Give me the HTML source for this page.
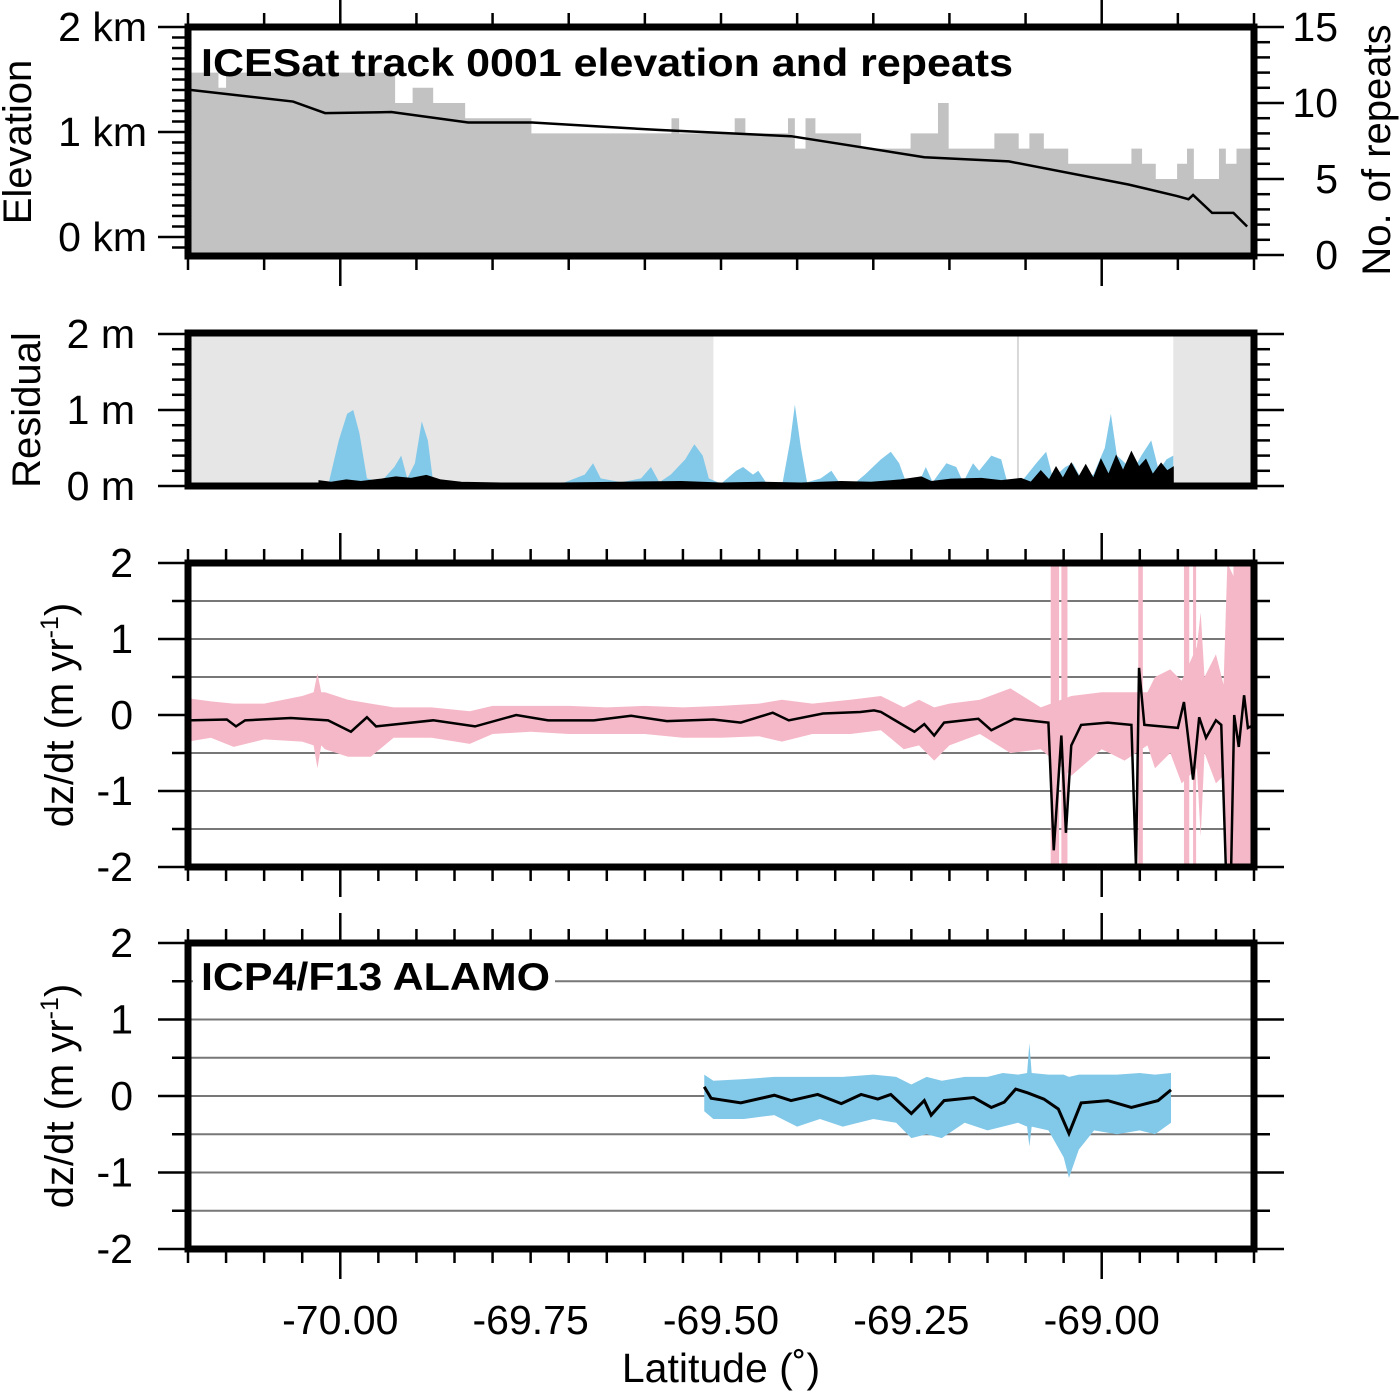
<!DOCTYPE html>
<html><head><meta charset="utf-8"><style>
html,body{margin:0;padding:0;background:#fff;}
svg{display:block;font-family:"Liberation Sans",Arial,sans-serif;}
</style></head><body>
<svg id="chart" width="1400" height="1395" viewBox="0 0 1400 1395" xmlns="http://www.w3.org/2000/svg">
<defs>
<clipPath id="c1"><rect x="188" y="27" width="1066" height="229"/></clipPath>
<clipPath id="c2"><rect x="188" y="333" width="1066" height="153"/></clipPath>
<clipPath id="c3"><rect x="188" y="563" width="1066" height="304"/></clipPath>
<clipPath id="c4"><rect x="188" y="943" width="1066" height="306"/></clipPath>
</defs>
<g id="marks"></g>
</svg>
<script>
// ---- Panel 1: elevation and repeats ----
const elevLat = [-70.196,-70.062,-70.02,-69.933,-69.832,-69.748,-69.583,-69.408,-69.233,-69.122,-68.965,-68.901,-68.886,-68.880,-68.855,-68.827,-68.809];
const elevKm  = [1.40,1.29,1.18,1.19,1.09,1.09,1.02,0.96,0.76,0.72,0.50,0.39,0.36,0.40,0.23,0.23,0.10];
const repStart = [-70.2,-70.16,-70.15,-69.928,-69.905,-69.878,-69.836,-69.749,-69.565,-69.555,-69.482,-69.468,-69.412,-69.403,-69.389,-69.376,-69.316,-69.251,-69.215,-69.201,-69.141,-69.109,-69.095,-69.076,-69.044,-68.961,-68.947,-68.929,-68.901,-68.888,-68.879,-68.846,-68.837,-68.823];
const repCount = [12,11,12,10,11,10,9,8,9,8,9,8,9,7,9,8,7,8,10,7,8,7,8,7,6,7,6,5,6,7,5,7,6,7];
// ---- Panel 2: residuals ----
const shadeStart = [-70.2,-68.906];
const shadeEnd   = [-69.51,-68.8];
const shadeLineLat = [-69.11];
const blueResLat = [-70.028,-70.015,-70.002,-69.991,-69.983,-69.975,-69.965,-69.947,-69.929,-69.920,-69.912,-69.902,-69.893,-69.885,-69.878,-69.828,-69.710,-69.679,-69.668,-69.658,-69.631,-69.605,-69.592,-69.581,-69.566,-69.547,-69.535,-69.524,-69.516,-69.500,-69.480,-69.471,-69.458,-69.451,-69.441,-69.419,-69.409,-69.403,-69.395,-69.387,-69.369,-69.355,-69.345,-69.323,-69.311,-69.290,-69.277,-69.266,-69.257,-69.240,-69.231,-69.222,-69.204,-69.191,-69.182,-69.169,-69.161,-69.145,-69.132,-69.124,-69.106,-69.086,-69.073,-69.064,-69.048,-69.038,-69.027,-69.011,-68.996,-68.988,-68.980,-68.969,-68.959,-68.948,-68.935,-68.925,-68.915,-68.906];
const blueResVal = [0.02,0.05,0.6,0.95,1.0,0.7,0.1,0.05,0.25,0.4,0.1,0.3,0.85,0.6,0.05,0.03,0.03,0.15,0.3,0.1,0.05,0.1,0.25,0.05,0.15,0.35,0.55,0.4,0.1,0.03,0.2,0.25,0.15,0.2,0.05,0.05,0.6,1.07,0.5,0.05,0.1,0.2,0.05,0.05,0.15,0.35,0.45,0.3,0.05,0.05,0.25,0.05,0.3,0.25,0.05,0.3,0.2,0.4,0.35,0.05,0.05,0.3,0.45,0.1,0.25,0.3,0.1,0.15,0.5,0.95,0.4,0.3,0.2,0.4,0.6,0.2,0.35,0.4];
const blackResLat = [-70.028,-70.012,-69.992,-69.973,-69.947,-69.927,-69.907,-69.887,-69.868,-69.841,-69.789,-69.710,-69.631,-69.552,-69.500,-69.447,-69.395,-69.342,-69.303,-69.264,-69.237,-69.224,-69.198,-69.158,-69.132,-69.106,-69.093,-69.080,-69.069,-69.060,-69.051,-69.040,-69.030,-69.021,-69.011,-69.001,-68.991,-68.981,-68.972,-68.961,-68.951,-68.942,-68.933,-68.922,-68.914,-68.906];
const blackResVal = [0.07,0.05,0.08,0.06,0.09,0.12,0.1,0.14,0.08,0.05,0.04,0.04,0.05,0.06,0.04,0.05,0.04,0.06,0.05,0.08,0.12,0.06,0.09,0.1,0.07,0.1,0.05,0.2,0.08,0.25,0.1,0.3,0.12,0.28,0.1,0.35,0.15,0.4,0.2,0.45,0.25,0.35,0.15,0.3,0.2,0.25];
// ---- Panel 3: ICESat dz/dt ----
const dz3Lat = [-70.200,-70.149,-70.137,-70.125,-70.065,-70.016,-69.986,-69.965,-69.953,-69.878,-69.823,-69.769,-69.727,-69.667,-69.618,-69.571,-69.510,-69.474,-69.432,-69.411,-69.366,-69.317,-69.299,-69.290,-69.246,-69.233,-69.220,-69.207,-69.162,-69.145,-69.115,-69.070,-69.063,-69.053,-69.047,-69.040,-69.027,-68.992,-68.961,-68.955,-68.951,-68.944,-68.900,-68.892,-68.880,-68.872,-68.863,-68.850,-68.843,-68.837,-68.830,-68.826,-68.820,-68.813,-68.808,-68.800];
const dz3Val = [-0.07,-0.06,-0.15,-0.07,-0.04,-0.07,-0.22,-0.03,-0.15,-0.07,-0.15,0.0,-0.07,-0.07,-0.01,-0.08,-0.06,-0.1,0.03,-0.07,0.02,0.04,0.06,0.04,-0.22,-0.12,-0.27,-0.1,-0.05,-0.2,-0.05,-0.1,-1.78,-0.27,-1.55,-0.4,-0.13,-0.1,-0.13,-2.0,0.62,-0.13,-0.17,0.17,-0.85,-0.03,-0.3,-0.07,-0.13,-2.0,-2.0,0.0,-0.42,0.26,-0.17,-0.13];
const pinkLat = [-70.20,-70.17,-70.14,-70.10,-70.05,-70.035,-70.03,-70.025,-70.02,-69.99,-69.96,-69.93,-69.88,-69.83,-69.80,-69.75,-69.70,-69.65,-69.60,-69.55,-69.50,-69.45,-69.42,-69.38,-69.33,-69.29,-69.26,-69.24,-69.22,-69.20,-69.16,-69.12,-69.08,-69.04,-69.00,-68.97,-68.94,-68.93,-68.91,-68.895,-68.875,-68.87,-68.865,-68.85,-68.84,-68.835,-68.80];
const pinkLo  = [-0.35,-0.30,-0.42,-0.32,-0.35,-0.40,-0.70,-0.40,-0.45,-0.55,-0.55,-0.30,-0.30,-0.38,-0.25,-0.22,-0.25,-0.25,-0.25,-0.30,-0.30,-0.28,-0.35,-0.25,-0.25,-0.20,-0.45,-0.40,-0.60,-0.40,-0.25,-0.50,-0.45,-0.80,-0.45,-0.60,-0.40,-0.70,-0.50,-0.90,-0.70,-1.60,-0.50,-0.90,-0.80,-2.0,-2.0];
const pinkHi  = [0.22,0.18,0.15,0.15,0.25,0.30,0.55,0.30,0.30,0.20,0.15,0.10,0.10,0.05,0.12,0.12,0.12,0.10,0.12,0.10,0.12,0.15,0.20,0.15,0.20,0.25,0.10,0.20,0.10,0.15,0.20,0.35,0.10,0.25,0.30,0.30,0.30,0.50,0.60,0.45,0.90,1.35,0.50,0.80,0.40,2.0,1.25];
const pinkBarStart = [-69.067,-69.053,-68.952,-68.892,-68.880,-68.827];
const pinkBarEnd   = [-69.056,-69.045,-68.946,-68.885,-68.876,-68.804];
// ---- Panel 4: ALAMO dz/dt ----
const dz4Lat = [-69.522,-69.513,-69.474,-69.430,-69.408,-69.373,-69.342,-69.316,-69.294,-69.277,-69.250,-69.233,-69.224,-69.207,-69.168,-69.145,-69.128,-69.113,-69.097,-69.076,-69.057,-69.043,-69.027,-68.992,-68.961,-68.926,-68.909];
const dz4Val = [0.12,-0.03,-0.09,0.01,-0.06,0.02,-0.10,0.02,-0.04,0.02,-0.23,-0.06,-0.25,-0.06,-0.02,-0.15,-0.08,0.09,0.04,-0.04,-0.17,-0.49,-0.09,-0.06,-0.15,-0.06,0.08];
const blueLat = [-69.522,-69.51,-69.47,-69.43,-69.40,-69.37,-69.34,-69.30,-69.27,-69.25,-69.23,-69.21,-69.18,-69.15,-69.13,-69.11,-69.098,-69.095,-69.092,-69.07,-69.05,-69.043,-69.03,-69.01,-68.98,-68.95,-68.93,-68.909];
const blueLo  = [-0.20,-0.30,-0.30,-0.25,-0.40,-0.30,-0.40,-0.30,-0.35,-0.55,-0.50,-0.55,-0.35,-0.45,-0.40,-0.35,-0.40,-0.66,-0.40,-0.45,-0.80,-1.07,-0.70,-0.45,-0.50,-0.45,-0.50,-0.35];
const blueHi  = [0.28,0.20,0.22,0.25,0.25,0.25,0.25,0.28,0.25,0.15,0.25,0.20,0.25,0.25,0.30,0.28,0.30,0.69,0.30,0.28,0.28,0.25,0.28,0.28,0.28,0.30,0.28,0.30];
// tick labels
const xTickVals = [-70.00,-69.75,-69.50,-69.25,-69.00];
const xTickLabels = ["-70.00","-69.75","-69.50","-69.25","-69.00"];
const elevTicks = [0,1,2];
const elevLabels = ["0 km","1 km","2 km"];
const repTicks = [0,5,10,15];
const repLabels = ["0","5","10","15"];
const resTicks = [0,1,2];
const resLabels = ["0 m","1 m","2 m"];
const dzTicks = [-2,-1,0,1,2];
const dzLabels = ["-2","-1","0","1","2"];

const NS = "http://www.w3.org/2000/svg";
const root = document.getElementById("marks");
const L = 188, R = 1254;
const X = lat => L + (lat + 70.2) * (R - L) / 1.4;
const yElev = v => 237 - v * 105;
const yRep = n => 255 - n * 15.2;
const yRes = v => 486 - v * 76;
const yD3 = v => 715 - v * 76;
const yD4 = v => 1096 - v * 76.5;

function mk(tag, attrs, parent) {
  const e = document.createElementNS(NS, tag);
  for (const k in attrs) e.setAttribute(k, attrs[k]);
  (parent || root).appendChild(e);
  return e;
}
function txt(s, x, y, size, anchor, weight, parent) {
  const t = mk("text", {x: x, y: y, "font-size": size, "text-anchor": anchor || "start", "font-weight": weight || "normal", fill: "#000"}, parent);
  t.textContent = s;
  return t;
}
function group(name, clip) {
  const g = mk("g", clip ? {"clip-path": "url(#" + clip + ")"} : {});
  
  
  return g;
}
function bandPath(lat, lo, hi, ys) {
  let d = "M" + X(lat[0]) + "," + ys(hi[0]);
  for (let i = 1; i < lat.length; i++) d += "L" + X(lat[i]) + "," + ys(hi[i]);
  for (let i = lat.length - 1; i >= 0; i--) d += "L" + X(lat[i]) + "," + ys(lo[i]);
  return d + "Z";
}
function linePath(lat, v, ys) {
  return lat.map((a, i) => (i ? "L" : "M") + X(a) + "," + ys(v[i])).join("");
}
function areaPath(lat, v, ys) {
  let d = "M" + X(lat[0]) + "," + ys(0);
  for (let i = 0; i < lat.length; i++) d += "L" + X(lat[i]) + "," + ys(v[i]);
  return d + "L" + X(lat[lat.length - 1]) + "," + ys(0) + "Z";
}
function xTicks(g, top, bot, step, doTop) {
  const n = Math.round(1.4 / step);
  for (let i = 0; i <= n; i++) {
    const lat = -70.2 + i * step;
    const x = X(lat);
    const major = Math.abs(lat - Math.round(lat)) < 1e-6;
    const len = major ? 30 : 14;
    mk("line", {x1: x, x2: x, y1: bot, y2: bot + len, stroke: "#000", "stroke-width": 2.5}, g);
    if (doTop) mk("line", {x1: x, x2: x, y1: top, y2: top - len, stroke: "#000", "stroke-width": 2.5}, g);
  }
}
function yTicks(g, ys, lo, hi, minor, major, side) {
  const n = Math.round((hi - lo) / minor);
  for (let i = 0; i <= n; i++) {
    const v = lo + i * minor;
    const y = ys(v);
    const isMaj = Math.abs(v / major - Math.round(v / major)) < 1e-6;
    const len = isMaj ? 28 : 14;
    if (side === "L") mk("line", {x1: L - len - 2, x2: L, y1: y, y2: y, stroke: "#000", "stroke-width": 2.5}, g);
    else mk("line", {x1: R, x2: R + len + 2, y1: y, y2: y, stroke: "#000", "stroke-width": 2.5}, g);
  }
}
function frame(g, top, bot) {
  mk("rect", {x: L, y: top, width: R - L, height: bot - top, fill: "none", stroke: "#000", "stroke-width": 7}, g);
}

// ===== Panel 1 =====
const p1 = group("elevation-panel");
const p1c = group("elevation-plot-area", "c1");
p1.appendChild(p1c);
let d = "M" + X(repStart[0]) + "," + yRep(0);
for (let i = 0; i < repStart.length; i++) {
  const x0 = X(repStart[i]);
  const x1 = X(i + 1 < repStart.length ? repStart[i + 1] : -68.8);
  d += "L" + x0 + "," + yRep(repCount[i]) + "L" + x1 + "," + yRep(repCount[i]);
}
d += "L" + X(-68.8) + "," + yRep(0) + "Z";
const rep = mk("path", {d: d, fill: "#c2c2c2"}, p1c);


const el = mk("path", {d: linePath(elevLat, elevKm, yElev), fill: "none", stroke: "#000", "stroke-width": 2.5}, p1c);


const t1 = txt("ICESat track 0001  elevation and repeats", 201, 76, 39, "start", "bold", p1);
t1.setAttribute("textLength", "812");
t1.setAttribute("lengthAdjust", "spacingAndGlyphs");


frame(p1, 27, 256);
xTicks(p1, 27, 256, 0.1, true);
yTicks(p1, yElev, -0.1, 2.0, 0.1, 1, "L");
yTicks(p1, yRep, 0, 15, 1, 5, "R");
elevTicks.forEach((v, i) => {
  const t = txt(elevLabels[i], 147, yElev(v) + 14, 41, "end", "normal", p1);
  
  
});
repTicks.forEach((v, i) => {
  const t = txt(repLabels[i], 1338, yRep(v) + 14, 41, "end", "normal", p1);
  
  
});
const ya1 = txt("Elevation", 0, 0, 40, "middle", "normal", p1);
ya1.setAttribute("transform", "translate(31,142) rotate(-90)");


const ya1r = txt("No. of repeats", 0, 0, 40, "middle", "normal", p1);
ya1r.setAttribute("transform", "translate(1390,150) rotate(-90)");



// ===== Panel 2 =====
const p2 = group("residual-panel");
const p2c = group("residual-plot-area", "c2");
p2.appendChild(p2c);
shadeStart.forEach((s, i) => {
  const r = mk("rect", {x: X(s), y: 330, width: X(shadeEnd[i]) - X(s), height: 160, fill: "#e6e6e6"}, p2c);
  
  
});
shadeLineLat.forEach(s => {
  const r = mk("line", {x1: X(s), x2: X(s), y1: 330, y2: 490, stroke: "#d8d8d8", "stroke-width": 2}, p2c);
  
  
});
const ba = mk("path", {d: areaPath(blueResLat, blueResVal, yRes), fill: "#82c8e8"}, p2c);


const ka = mk("path", {d: areaPath(blackResLat, blackResVal, yRes), fill: "#000", stroke: "#000", "stroke-width": 1}, p2c);


frame(p2, 333, 486);
yTicks(p2, yRes, 0, 2, 0.2, 1, "L");
yTicks(p2, yRes, 0, 2, 0.2, 1, "R");
resTicks.forEach((v, i) => {
  const t = txt(resLabels[i], 135, yRes(v) + 14, 41, "end", "normal", p2);
  
  
});
const ya2 = txt("Residual", 0, 0, 40, "middle", "normal", p2);
ya2.setAttribute("transform", "translate(40,410) rotate(-90)");



// ===== Panels 3 & 4 =====
function dzPanel(name, clip, top, bot, ys, drawFn) {
  const p = group(name);
  const pc = group(name + "-plot-area", clip);
  p.appendChild(pc);
  for (let v = -1.5; v <= 1.51; v += 0.5) {
    const gl = mk("line", {x1: L, x2: R, y1: ys(v), y2: ys(v), stroke: "#777", "stroke-width": 2}, pc);
    
    
  }
  drawFn(pc, p);
  frame(p, top, bot);
  xTicks(p, top, bot, 0.05, true);
  yTicks(p, ys, -2, 2, 0.5, 1, "L");
  yTicks(p, ys, -2, 2, 0.5, 1, "R");
  dzTicks.forEach((v, i) => {
    const t = txt(dzLabels[i], 133, ys(v) + 14, 41, "end", "normal", p);
    
    
  });
  const ya = mk("text", {x: 0, y: 0, "font-size": 40, "text-anchor": "middle", transform: "translate(73," + ys(0) + ") rotate(-90)"}, p);
  ya.innerHTML = 'dz/dt (m yr<tspan dy="-15" font-size="25">-1</tspan><tspan dy="15">)</tspan>';
  
  
  return p;
}
dzPanel("icesat-dzdt-panel", "c3", 563, 867, yD3, (pc) => {
  const pb = mk("path", {d: bandPath(pinkLat, pinkLo, pinkHi, yD3), fill: "#f5b8c8"}, pc);
  
  
  pinkBarStart.forEach((s, i) => {
    const r = mk("rect", {x: X(s), y: yD3(2), width: X(pinkBarEnd[i]) - X(s), height: yD3(-2) - yD3(2), fill: "#f5b8c8"}, pc);
    
    
  });
  const ln = mk("path", {d: linePath(dz3Lat, dz3Val, yD3), fill: "none", stroke: "#000", "stroke-width": 2.5}, pc);
  
  
});
dzPanel("alamo-dzdt-panel", "c4", 943, 1249, yD4, (pc, p) => {
  const bb = mk("path", {d: bandPath(blueLat, blueLo, blueHi, yD4), fill: "#82c8e8"}, pc);
  
  
  const ln = mk("path", {d: linePath(dz4Lat, dz4Val, yD4), fill: "none", stroke: "#000", "stroke-width": 3}, pc);
  
  
  const bx = mk("rect", {x: 193, y: 955, width: 362, height: 44, fill: "#fff"}, pc);
  
  
  const t = txt("ICP4/F13 ALAMO", 201, 990, 39, "start", "bold", pc);
  t.setAttribute("textLength", "349");
  t.setAttribute("lengthAdjust", "spacingAndGlyphs");
  
  
});

// x axis labels
const xg = group("x-axis");
xTickVals.forEach((v, i) => {
  const t = txt(xTickLabels[i], X(v), 1334, 41, "middle", "normal", xg);
  
  
});
const xt = txt("Latitude (˚)", 721, 1382, 41, "middle", "normal", xg);


</script>
</body></html>
